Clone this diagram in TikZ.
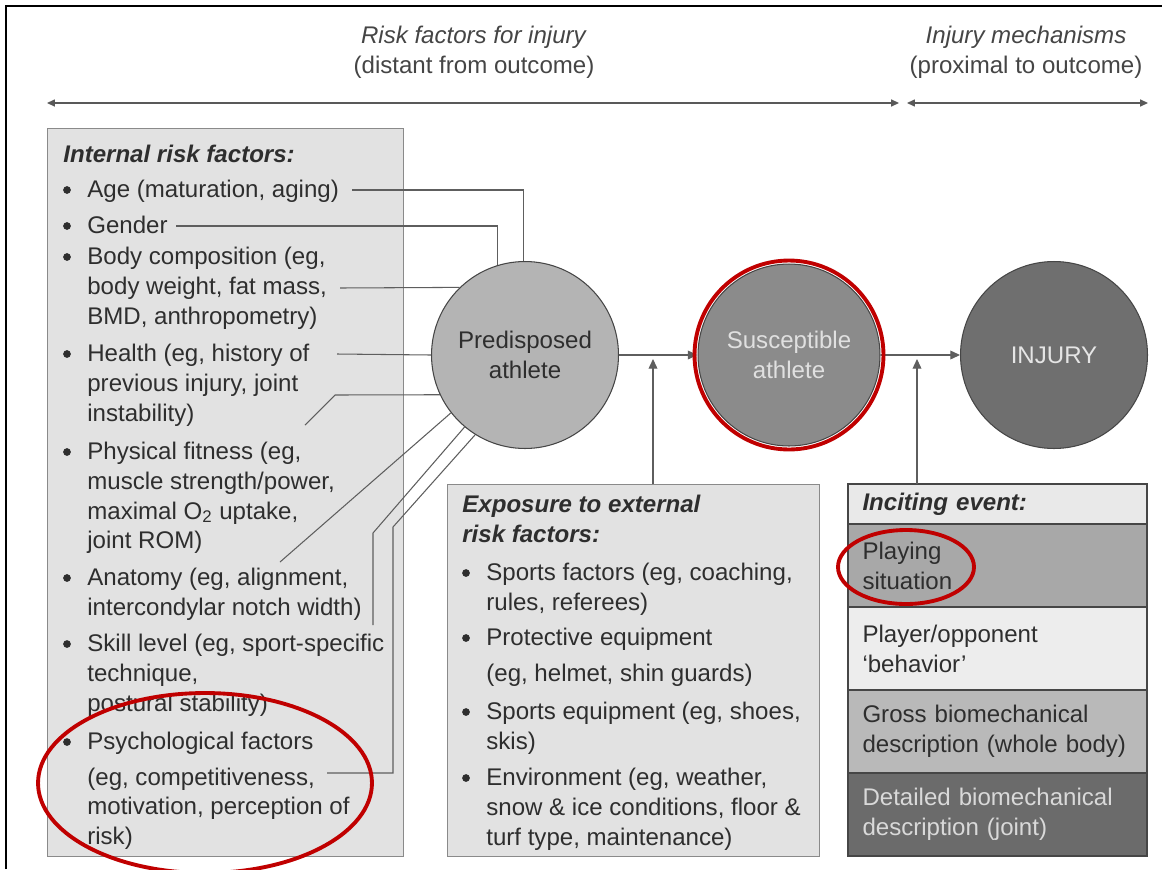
\documentclass[tikz,border=0pt]{standalone}
\usepackage{fontspec}
\setmainfont{Liberation Sans}
\usetikzlibrary{positioning,arrows.meta}

\definecolor{txtcol}{HTML}{2E2E2E}
\definecolor{hdrcol}{HTML}{454545}
\definecolor{linecol}{HTML}{5E5E5E}
\definecolor{boxfill}{HTML}{E2E2E2}
\definecolor{boxline}{HTML}{8A8A8A}
\definecolor{predfill}{HTML}{B4B4B4}
\definecolor{suscfill}{HTML}{8B8B8B}
\definecolor{injfill}{HTML}{6F6F6F}
\definecolor{markred}{HTML}{C00000}

\tikzset{
  txt/.style={font=\fontsize{13.7}{17}\selectfont, text=txtcol, inner sep=0pt, align=left},
  ttl/.style={txt, font=\fontsize{13.7}{17}\selectfont\bfseries\itshape},
  riskbox/.style={draw=boxline, fill=boxfill, line width=0.8pt, anchor=north west, inner sep=0pt},
  athlete/.style={circle, draw=gray!55!black, line width=0.6pt, minimum size=3.74cm, inner sep=0pt,
    font=\fontsize{13.7}{17}\selectfont, text=txtcol, align=center},
  evrow/.style={draw=gray!55!black, line width=0.8pt, anchor=north west, minimum width=5.98cm,
    minimum height=1.66cm, text width=5.4cm, inner xsep=0.29cm, inner ysep=0pt, outer sep=0pt,
    align=left, font=\fontsize{13.7}{17}\selectfont, text=txtcol},
  link/.style={draw=linecol, line width=0.6pt},
  arr/.style={link, -{Triangle[length=5.5pt,width=5pt]}},
  axis/.style={draw=gray!70!black, line width=0.7pt, {Triangle[length=4.5pt,width=4pt]}-{Triangle[length=4.5pt,width=4pt]}},
  redmark/.style={draw=markred, line width=2.2pt}
}

\begin{document}
\begin{tikzpicture}[x=0.02cm, y=-0.02cm]
    % Page and frame
    \path[use as bounding box, fill=white] (0,0) rectangle (1162,869);
    \draw[black, line width=1.6pt] (6,869) -- (6,6) -- (1162,6);

    % Time axis
    \node[txt, text=hdrcol, align=center] (hdrisk) at (474,52) {\textit{Risk factors for injury}\\(distant from outcome)};
    \node[txt, text=hdrcol, align=center] (hdmech) at (1026,52) {\textit{Injury mechanisms}\\(proximal to outcome)};
    \coordinate (ax1) at (47,103);
    \coordinate (ax2) at (899,103);
    \coordinate (ax3) at (907,103);
    \coordinate (ax4) at (1148,103);
    \draw[axis] (ax1) -- (ax2);
    \draw[axis] (ax3) -- (ax4);

    % Internal risk factors
    \node[riskbox, minimum width=7.12cm, minimum height=14.56cm] (intbox) at (47,128) {};
    \node[ttl, anchor=base west] (inttitle) at (63,162) {Internal risk factors:};
    \foreach \y/\nm/\itemtext in {190/age/{Age (maturation, aging)}, 226/gender/{Gender},
        257/body/{Body composition (eg,\\body weight, fat mass,\\BMD, anthropometry)},
        354/health/{Health (eg, history of\\previous injury, joint\\instability)},
        452/fitness/{Physical fitness (eg,\\muscle strength/power,\\maximal O\textsubscript{2} uptake,\\joint ROM)},
        578/anatomy/{Anatomy (eg, alignment,\\intercondylar notch width)},
        644/skill/{Skill level (eg, sport-specific\\technique,\\postural stability)},
        742/psych/{Psychological factors\\[3.4pt](eg, competitiveness,\\motivation, perception of\\risk)}} {
        \fill[txtcol] (67,\y) circle (2.2pt);
        \node[txt, anchor=north west] (\nm) at (87,\y-14) {\strut\itemtext};
    }

    % Exposure to external risk factors
    \node[riskbox, minimum width=7.44cm, minimum height=7.44cm] (extbox) at (447,484) {};
    \node[ttl, anchor=north west] (exttitle) at (462,491) {\strut Exposure to external\\risk factors:};
    \foreach \y/\nm/\itemtext in {573/sports/{Sports factors (eg, coaching,\\rules, referees)},
        638/protect/{Protective equipment\\[3.8pt](eg, helmet, shin guards)},
        712/equip/{Sports equipment (eg, shoes,\\skis)},
        778/environ/{Environment (eg, weather,\\snow \& ice conditions, floor \&\\turf type, maintenance)}} {
        \fill[txtcol] (466,\y) circle (2.2pt);
        \node[txt, anchor=north west] (\nm) at (486,\y-14) {\strut\itemtext};
    }

    % Athlete states
    \node[athlete, fill=predfill] (pred) at (525,355) {Predisposed\\athlete};
    \node[athlete, fill=suscfill, text=white!88!black, minimum size=3.64cm] (susc) at (789,355) {Susceptible\\athlete};
    \node[athlete, fill=injfill, text=white!90!black] (injury) at (1054,355) {INJURY};

    % Inciting event
    \node[evrow, fill=gray!17, minimum height=0.8cm, font=\fontsize{13.7}{17}\selectfont\bfseries\itshape] (inchead) at (848,484) {Inciting event:};
    \node[evrow, fill=gray!68, below=0pt of inchead] (playrow) {Playing\\situation};
    \node[evrow, fill=gray!14, below=0pt of playrow] (playerrow) {Player/opponent\\`behavior'};
    \node[evrow, fill=gray!55, below=0pt of playerrow] (grossrow) {Gross biomechanical\\description (whole body)};
    \node[evrow, fill=black!58, text=white!85!black, below=0pt of grossrow] (detailrow) {Detailed biomechanical\\description (joint)};

    % Links to predisposed athlete
    \coordinate (e-age) at (352,190);
    \coordinate (e-gender) at (176,226);
    \coordinate (e-body) at (340,288);
    \coordinate (e-health) at (337,354);
    \coordinate (e-inst) at (305,425);
    \coordinate (e-fit) at (280,562);
    \coordinate (e-skill) at (373,625);
    \coordinate (e-psych) at (327,773);
    \draw[link] (e-age) -| (pred.91);
    \draw[link] (e-gender) -| (pred.107);
    \draw[link] (e-body) -- (pred.134);
    \draw[link] (e-health) -- (pred.west);
    \draw[link] (e-inst) -- ++(30,-30) -- (pred.205);
    \draw[link] (e-fit) -- (pred.218);
    \draw[link] (e-skill) -- ++(0,-92) -- (pred.230);
    \draw[link] (e-psych) -- ++(66,0) -- ++(0,-246) -- (pred.238);

    % Main chain
    \draw[arr] (pred) -- (susc);
    \draw[arr] (susc) -- (injury);
    \coordinate (j-ext) at (653,359);
    \coordinate (j-inc) at (917,359);
    \draw[arr] (extbox.north -| j-ext) -- (j-ext);
    \draw[arr] (inchead.north -| j-inc) -- (j-inc);

    % Red highlights
    \draw[redmark] (susc.center) circle (1.89cm);
    \draw[redmark] (906,567) ellipse [x radius=1.36cm, y radius=0.74cm];
    \draw[redmark] (205,783) ellipse [x radius=3.34cm, y radius=1.8cm];
\end{tikzpicture}
\end{document}
